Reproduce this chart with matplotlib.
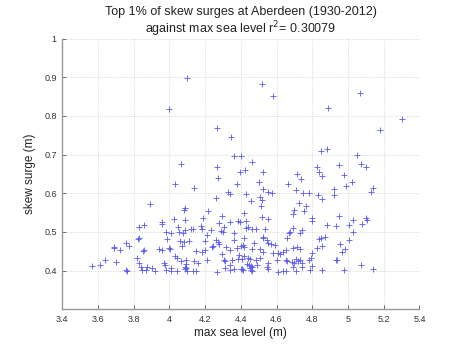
import matplotlib
matplotlib.use("Agg")
import matplotlib.pyplot as plt
import numpy as np

title_lines = ["Top 1% of skew surges at Aberdeen (1930-2012)",
               "against max sea level r$^2$= 0.30079"]
xlabel = "max sea level (m)"
ylabel = "skew surge (m)"
xticks = [3.4, 3.6, 3.8, 4.0, 4.2, 4.4, 4.6, 4.8, 5.0, 5.2, 5.4]
xticklabels = ["3.4", "3.6", "3.8", "4", "4.2", "4.4", "4.6", "4.8", "5", "5.2", "5.4"]
yticks = [0.4, 0.5, 0.6, 0.7, 0.8, 0.9, 1.0]
yticklabels = ["0.4", "0.5", "0.6", "0.7", "0.8", "0.9", "1"]

upper = [
    (4.097, 0.898), (3.998, 0.818), (4.517, 0.882), (4.579, 0.851), (5.066, 0.858),
    (4.888, 0.821), (5.305, 0.792), (5.178, 0.764), (4.268, 0.770), (4.343, 0.745),
    (4.851, 0.710), (4.883, 0.714), (5.050, 0.699), (4.364, 0.696), (4.400, 0.696),
    (4.461, 0.682), (4.063, 0.677), (4.265, 0.667), (4.950, 0.674), (5.072, 0.675),
    (5.102, 0.669), (4.827, 0.667), (4.838, 0.655), (4.857, 0.645), (4.976, 0.646),
    (4.395, 0.654), (4.424, 0.660), (4.523, 0.656), (4.713, 0.649), (4.736, 0.637),
    (4.274, 0.639), (5.020, 0.630), (4.986, 0.619), (4.920, 0.610), (4.920, 0.596),
    (5.140, 0.614), (5.130, 0.604), (4.750, 0.600), (4.780, 0.600), (4.832, 0.596),
    (4.140, 0.614), (4.377, 0.623), (4.502, 0.630), (4.526, 0.610), (4.550, 0.604),
    (4.576, 0.600), (4.330, 0.604), (4.340, 0.597), (4.427, 0.598), (4.507, 0.591),
    (4.663, 0.624), (4.708, 0.609), (4.259, 0.588), (4.030, 0.625),
]

left_group = [
    (3.567, 0.413), (3.610, 0.415), (3.640, 0.427), (3.690, 0.462), (3.690, 0.458),
    (3.700, 0.422), (3.725, 0.453), (3.755, 0.472), (3.775, 0.464), (3.755, 0.401),
    (3.760, 0.400), (3.820, 0.434), (3.825, 0.481), (3.830, 0.484), (3.830, 0.512),
    (3.858, 0.519), (3.830, 0.420), (3.840, 0.410), (3.845, 0.403), (3.850, 0.450),
    (3.860, 0.453), (3.867, 0.402), (3.875, 0.410), (3.890, 0.573), (3.900, 0.406),
    (3.920, 0.400), (3.940, 0.456), (3.958, 0.525), (3.958, 0.520), (3.960, 0.453),
    (3.970, 0.419), (3.975, 0.415), (3.980, 0.402), (3.980, 0.500), (3.985, 0.482),
    (4.000, 0.458), (4.004, 0.456), (4.006, 0.497), (4.010, 0.400), (4.010, 0.408),
    (4.023, 0.534), (4.030, 0.438), (4.040, 0.433), (4.045, 0.400), (4.050, 0.512),
    (4.053, 0.500), (4.057, 0.477), (4.064, 0.426), (4.070, 0.464), (4.075, 0.497),
    (4.080, 0.557), (4.085, 0.561), (4.080, 0.475), (4.086, 0.531), (4.088, 0.506),
    (4.090, 0.428), (4.085, 0.405), (4.092, 0.408), (4.100, 0.400), (4.088, 0.410),
    (4.094, 0.417), (4.110, 0.478), (4.120, 0.509), (4.130, 0.507), (4.130, 0.400),
    (4.140, 0.426), (4.146, 0.400), (4.150, 0.451), (4.160, 0.419), (4.176, 0.516),
    (4.180, 0.508), (4.180, 0.448), (4.190, 0.535), (4.198, 0.453), (4.200, 0.478),
    (4.215, 0.553), (4.210, 0.492), (4.210, 0.428), (4.235, 0.505), (4.240, 0.462),
    (4.244, 0.464), (4.260, 0.479), (4.267, 0.397), (4.280, 0.522), (4.286, 0.502),
    (4.295, 0.542), (4.300, 0.500), (4.305, 0.514), (4.276, 0.470), (4.272, 0.473),
    (4.295, 0.442), (4.305, 0.428), (4.310, 0.424), (4.310, 0.406), (4.317, 0.462),
    (4.340, 0.415), (4.340, 0.527), (4.360, 0.405), (4.364, 0.498), (4.364, 0.479),
    (4.377, 0.458), (4.383, 0.430), (4.383, 0.529),
]

right_group = [
    (4.393, 0.527), (4.428, 0.529), (4.520, 0.540), (4.553, 0.533), (4.796, 0.535),
    (4.796, 0.529), (4.880, 0.518), (4.933, 0.516), (4.950, 0.541), (5.006, 0.517),
    (5.030, 0.531), (5.076, 0.521), (5.100, 0.535), (5.108, 0.531), (5.026, 0.500),
    (5.008, 0.479), (4.985, 0.456), (4.965, 0.449), (4.956, 0.469), (4.934, 0.428),
    (4.940, 0.428), (5.070, 0.415), (5.142, 0.404), (4.980, 0.403), (4.856, 0.403),
    (4.787, 0.402), (4.797, 0.412), (4.783, 0.428), (4.790, 0.434), (4.800, 0.445),
    (4.826, 0.458), (4.838, 0.482), (4.851, 0.484), (4.870, 0.488), (4.857, 0.464),
    (4.740, 0.505), (4.730, 0.497), (4.690, 0.511), (4.675, 0.500), (4.671, 0.497),
    (4.660, 0.484), (4.712, 0.462), (4.730, 0.455), (4.693, 0.458), (4.652, 0.453),
    (4.637, 0.449), (4.610, 0.445), (4.620, 0.443), (4.650, 0.427), (4.660, 0.426),
    (4.710, 0.430), (4.720, 0.426), (4.730, 0.428), (4.684, 0.423), (4.700, 0.420),
    (4.740, 0.420), (4.693, 0.410), (4.740, 0.409), (4.710, 0.399), (4.650, 0.399),
    (4.610, 0.397), (4.637, 0.400), (4.600, 0.428), (4.553, 0.420), (4.545, 0.410),
    (4.550, 0.405), (4.580, 0.447), (4.553, 0.471), (4.570, 0.469), (4.590, 0.466),
    (4.545, 0.479), (4.525, 0.488), (4.522, 0.484), (4.535, 0.509), (4.484, 0.507),
    (4.465, 0.507), (4.430, 0.510), (4.438, 0.514), (4.420, 0.484), (4.473, 0.472),
    (4.507, 0.456), (4.525, 0.449), (4.460, 0.455), (4.420, 0.460), (4.410, 0.467),
    (4.400, 0.465), (4.340, 0.453), (4.390, 0.441), (4.420, 0.438), (4.440, 0.434),
    (4.450, 0.429), (4.405, 0.431), (4.350, 0.428), (4.484, 0.428), (4.507, 0.434),
    (4.460, 0.410), (4.455, 0.413), (4.450, 0.408), (4.400, 0.405), (4.405, 0.404),
    (4.410, 0.402), (4.340, 0.402), (4.460, 0.399), (4.455, 0.402), (4.435, 0.417),
    (4.445, 0.415), (4.490, 0.416), (4.456, 0.580), (4.510, 0.567), (4.520, 0.583),
    (4.725, 0.574), (4.765, 0.566), (4.695, 0.557), (4.755, 0.553), (4.690, 0.546),
    (4.420, 0.548), (4.857, 0.584),
]

pts = np.array(upper + left_group + right_group)
sea_level = pts[:, 0]
skew_surge = pts[:, 1]

plt.rcParams['font.family'] = ['Liberation Sans', 'DejaVu Sans']

fig = plt.figure(figsize=(4.65, 3.5), dpi=100)
ax = fig.add_axes([0.134, 0.116, 0.768, 0.774])
ax.plot(sea_level, skew_surge, linestyle='none', marker='+', markersize=5,
        markeredgewidth=0.6, color=(0.35, 0.35, 0.95))

ax.set_xlim(3.4, 5.4)
ax.set_ylim(0.3, 1.0)
ax.set_xticks(xticks)
ax.set_xticklabels(xticklabels)
ax.set_yticks(yticks)
ax.set_yticklabels(yticklabels)
ax.tick_params(direction='in', length=3, width=0.6, labelsize=6.5,
               colors='#555555', labelcolor='#333333', pad=4)
for s in ['top', 'right']:
    ax.spines[s].set_visible(False)
for s in ['left', 'bottom']:
    ax.spines[s].set_color('#999999')
    ax.spines[s].set_linewidth(1.0)
ax.grid(True, linestyle=':', color='#cccccc', linewidth=0.6)
ax.set_axisbelow(True)

ax.set_title("\n".join(title_lines), fontsize=9, color='#222222', pad=3, linespacing=1.05)
ax.set_xlabel(xlabel, fontsize=8.5, color='#222222', labelpad=2)
ax.set_ylabel(ylabel, fontsize=8.5, color='#222222', labelpad=6)

fig.savefig("out.png", dpi=100)
